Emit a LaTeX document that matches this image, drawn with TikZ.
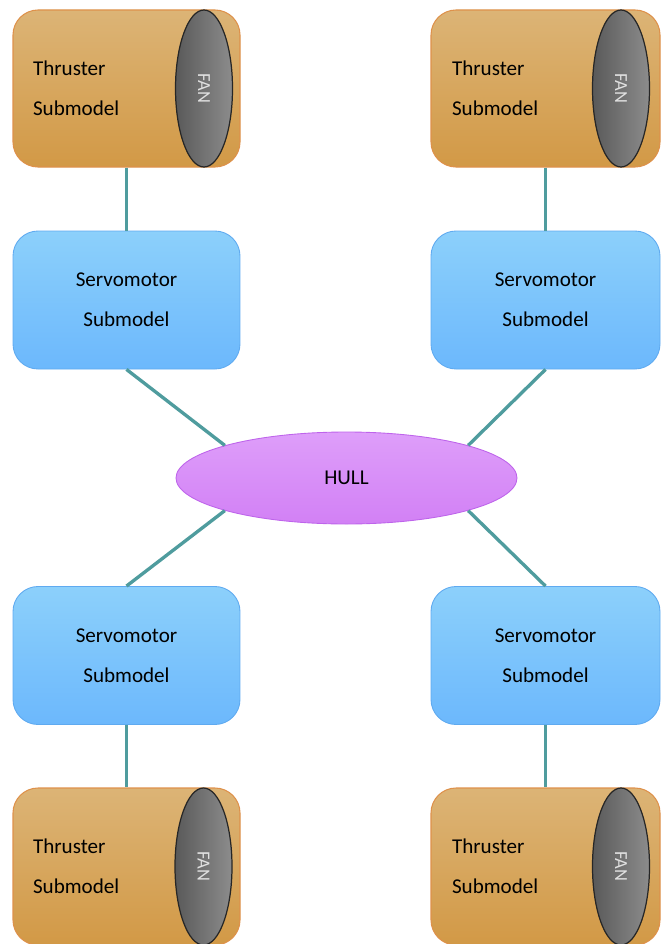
\documentclass[tikz,border=0pt]{standalone}
\usepackage{fontspec}
\setmainfont{Carlito}
\usepackage{xcolor}
\usetikzlibrary{shapes.geometric, positioning}
\definecolor{link_teal}{HTML}{4F9C9E}
\begin{document}
\begin{tikzpicture}[
		% Define styles for the nodes and links
		thruster_node/.style={
			rectangle,
			draw={rgb,255:red,222;green,145;blue,75},
			line width=0.6pt,
			top color={rgb,255:red,220;green,180;blue,118},
			bottom color={rgb,255:red,210;green,153;blue,70},
			minimum width=4.54cm,
			minimum height=3.14cm,
			text width=3.74cm,
			inner xsep=0.4cm,
			align=left,
			rounded corners=0.5cm,
			font=\fontsize{12}{23}\selectfont
		},
		servo_node/.style={
			rectangle,
			draw={rgb,255:red,95;green,170;blue,240},
			line width=0.5pt,
			top color={rgb,255:red,140;green,208;blue,251},
			bottom color={rgb,255:red,108;green,184;blue,252},
			minimum width=4.54cm,
			minimum height=2.76cm,
			align=center,
			rounded corners=0.5cm,
			font=\fontsize{12}{23}\selectfont
		},
		hull_node/.style={
			ellipse,
			draw={rgb,255:red,190;green,100;blue,235},
			line width=0.5pt,
			top color={rgb,255:red,222;green,158;blue,250},
			bottom color={rgb,255:red,210;green,128;blue,245},
			minimum width=6.82cm,
			minimum height=1.84cm,
			font=\fontsize{12}{14}\selectfont
		},
		fan_node/.style={
			ellipse,
			draw=black!85,
			line width=0.7pt,
			rotate=-90,
			left color=black!65,
			right color=black!45,
			text=white!88!black,
			minimum width=3.14cm,
			minimum height=1.14cm,
			inner sep=0pt,
			font=\fontsize{10.5}{12}\selectfont
		},
		link_style/.style={
			draw=link_teal,
			line width=1.9pt
		},
		]
		
		\useasboundingbox (0, 0) rectangle (13.36, -18.88);
		
		% ----- Nodes -----
		% Thrusters at the top
		\node[thruster_node] (thruster_tl) at (2.53, -1.77) {Thruster\\Submodel};
		\node[thruster_node, minimum width=4.58cm] (thruster_tr) at (10.91, -1.77) {Thruster\\Submodel};
		
		% Servomotors
		\node[servo_node] (servo_tl) at (2.53, -6.0) {Servomotor\\Submodel};
		\node[servo_node, minimum width=4.58cm] (servo_tr) at (10.91, -6.0) {Servomotor\\Submodel};
		\node[servo_node] (servo_bl) at (2.53, -13.11) {Servomotor\\Submodel};
		\node[servo_node, minimum width=4.58cm] (servo_br) at (10.91, -13.11) {Servomotor\\Submodel};
		
		% Thrusters at the bottom
		\node[thruster_node] (thruster_bl) at (2.53, -17.33) {Thruster\\Submodel};
		\node[thruster_node, minimum width=4.58cm] (thruster_br) at (10.91, -17.33) {Thruster\\Submodel};
		
		% Fans on the thrusters
		\node[fan_node] (fan_tl) at (4.08, -1.77) {FAN};
		\node[fan_node] (fan_tr) at (12.42, -1.77) {FAN};
		\node[fan_node] (fan_bl) at (4.07, -17.33) {FAN};
		\node[fan_node] (fan_br) at (12.42, -17.33) {FAN};
		
		% Hull in the middle
		\node[hull_node] (hull) at (6.93, -9.56) {HULL};
		
		% ----- Links -----
		\draw[link_style] (thruster_tl.south) -- (servo_tl.north);
		\draw[link_style] (thruster_tr.south) -- (servo_tr.north);
		\draw[link_style] (servo_bl.south) -- (thruster_bl.north);
		\draw[link_style] (servo_br.south) -- (thruster_br.north);
		
		\draw[link_style] (servo_tl.south) -- (hull.165);
		\draw[link_style] (servo_tr.south) -- (hull.15);
		\draw[link_style] (servo_bl.north) -- (hull.195);
		\draw[link_style] (servo_br.north) -- (hull.345);
		
	\end{tikzpicture}
\end{document}
